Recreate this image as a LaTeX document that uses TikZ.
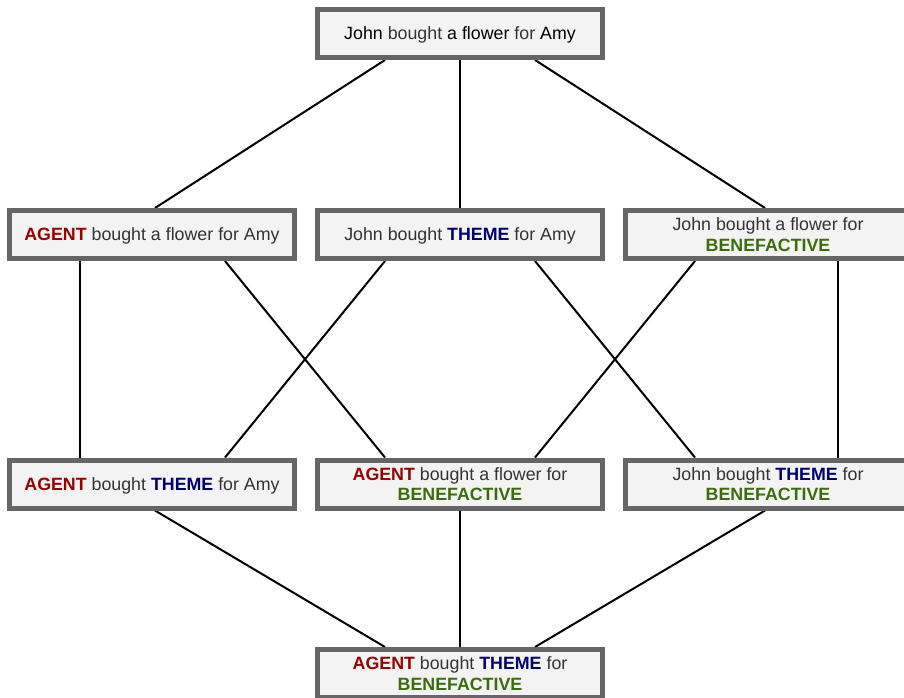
\documentclass[tikz,border=0pt]{standalone}
\usepackage{fontspec}
\setmainfont{Liberation Sans}
\usetikzlibrary{calc,backgrounds}
\definecolor{txt}{HTML}{333333}
\definecolor{agentc}{HTML}{990000}
\definecolor{themec}{HTML}{000070}
\definecolor{benc}{HTML}{3A6E0A}
\definecolor{boxfill}{HTML}{F3F3F3}
\definecolor{boxline}{HTML}{666666}
\newcommand{\rAg}{\textbf{\color{agentc}AGENT}}
\newcommand{\rTh}{\textbf{\color{themec}THEME}}
\newcommand{\rBe}{\textbf{\color{benc}BENEFACTIVE}}
\begin{document}
\begin{tikzpicture}[x=1pt,y=-1pt,
  box/.style={draw=boxline, line width=5pt, fill=boxfill, minimum width=285pt,
    minimum height=48pt, inner sep=0pt, align=center,
    font=\fontsize{17.8}{20.5}\selectfont, text=txt},
  oneline/.style={text height=16.2pt, text depth=3.8pt},
  conn/.style={line width=2pt, draw=black}]
\useasboundingbox (0,0) rectangle (904,697);
\node[box,oneline] (T) at (460,33.5) {{\color{black}John} bought {\color{black}a flower} for {\color{black}Amy}};
\node[box,oneline] (L2) at (152,234.5) {\rAg{} bought a flower for Amy};
\node[box,oneline] (M2) at (460,234.5) {John bought \rTh{} for Amy};
\node[box] (R2) at (768,234.5) {John bought a flower for\\\rBe};
\node[box,oneline] (L3) at (152,484) {\rAg{} bought \rTh{} for Amy};
\node[box] (M3) at (460,484) {\rAg{} bought a flower for\\\rBe};
\node[box] (R3) at (768,484) {John bought \rTh{} for\\\rBe};
\node[box] (B) at (460,673.5) {\rAg{} bought \rTh{} for\\\rBe};
\begin{scope}[on background layer]
\draw[conn] ($(T.south)+(-75,0)$) -- ($(L2.north)+(3,0)$);
\draw[conn] (T.south) -- (M2.north);
\draw[conn] ($(T.south)+(75,0)$) -- ($(R2.north)+(-3,0)$);
\draw[conn] ($(L2.south)+(-72,0)$) -- ($(L3.north)+(-72,0)$);
\draw[conn] ($(L2.south)+(73,0)$) -- ($(M3.north)+(-75,0)$);
\draw[conn] ($(M2.south)+(-75,0)$) -- ($(L3.north)+(73,0)$);
\draw[conn] ($(M2.south)+(75,0)$) -- ($(R3.north)+(-73,0)$);
\draw[conn] ($(R2.south)+(-73,0)$) -- ($(M3.north)+(75,0)$);
\draw[conn] ($(R2.south)+(70,0)$) -- ($(R3.north)+(70,0)$);
\draw[conn] ($(L3.south)+(3,0)$) -- ($(B.north)+(-75,0)$);
\draw[conn] (M3.south) -- (B.north);
\draw[conn] ($(R3.south)+(-3,0)$) -- ($(B.north)+(75,0)$);
\end{scope}
\end{tikzpicture}
\end{document}
